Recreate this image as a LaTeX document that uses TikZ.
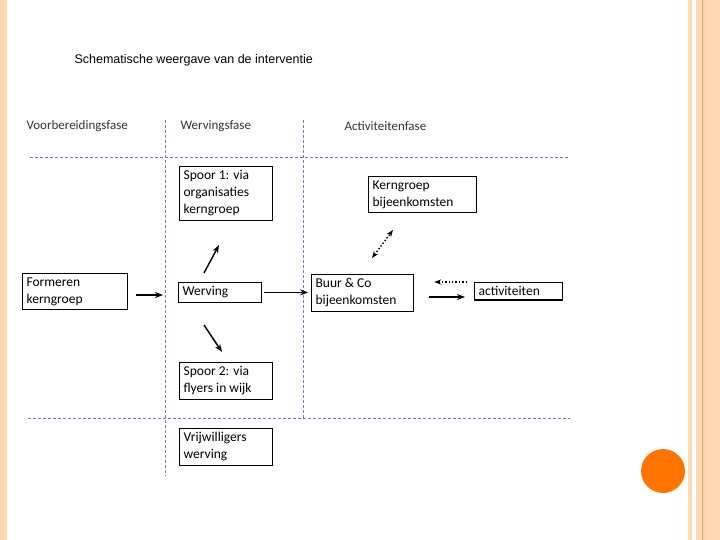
\documentclass[tikz,border=0pt]{standalone}
\usepackage{fontspec}
\setmainfont{Carlito}
\newfontfamily\titlefont{Liberation Sans}
\usetikzlibrary{arrows.meta}

\begin{document}
\begin{tikzpicture}[x=1pt, y=-1pt,
    stap/.style={draw, line width=1.2pt, anchor=north west, align=flush left, inner sep=4pt,
        font=\fontsize{13.5}{17}\selectfont},
    fase/.style={anchor=west, font=\fontsize{13}{15}\selectfont, text=black!80},
    scheiding/.style={densely dashed, color=blue!30!gray!80, line width=0.9pt},
    pijl/.style={-{Stealth[length=8pt, width=6pt]}, line width=1.4pt},
    stippel/.style={dotted, line width=1.4pt}]
    \useasboundingbox (0,0) rectangle (720,540);
    % slide decoration
    \fill[orange!30] (0,0) rectangle (7,540);
    \fill[orange!30] (688,0) rectangle (692,540);
    \fill[orange!30] (696,0) rectangle (720,540);
    \draw[orange!60!red!60] (702,0) -- (702,540);
    \fill[orange!80!red!90!yellow] (663,471) circle (22);
    \node[anchor=west, font=\titlefont\fontsize{12.5}{14}\selectfont] (titel) at (71,60)
        {Schematische weergave van de interventie};

    % kolommen
    \node[fase] (f1) at (23,126) {Voorbereidingsfase};
    \node[fase] (f2) at (177,126) {Wervingsfase};
    \node[fase] (f3) at (341,126) {Activiteitenfase};
    \draw[scheiding] (30,157) -- (570,157);
    \draw[scheiding] (28,418) -- (570,418);
    \draw[scheiding] (165,120) -- (165,476);
    \draw[scheiding] (303,120) -- (303,418);

    % stappen
    \node[stap, text width=97] (form) at (22,273) {Formeren\\kerngroep};
    \node[stap, text width=75] (werv) at (178,282) {Werving};
    \node[stap, text width=85] (spoor1) at (179,166) {Spoor 1: via\\organisaties\\kerngroep};
    \node[stap, text width=85] (spoor2) at (179,362) {Spoor 2: via\\flyers in wijk};
    \node[stap, text width=85] (vrij) at (179,428) {Vrijwilligers\\werving};
    \node[stap, text width=100] (kern) at (368,176) {Kerngroep\\bijeenkomsten};
    \node[stap, text width=94] (buur) at (311,274) {Buur \& Co\\bijeenkomsten};
    \node[stap, text width=80] (act) at (474,282) {activiteiten};

    \coordinate (w1) at (204,273);
    \coordinate (s1) at (219,245);
    \coordinate (w2) at (204,325);
    \coordinate (s2) at (222,352);
    \coordinate (b1) at (372,258);
    \coordinate (k1) at (393,230);

    \draw[pijl, shorten <=8pt, shorten >=15pt] (form.east |- 0,295) -- (werv.west |- 0,295);
    \draw[pijl, shorten <=2pt, shorten >=3pt] (werv.east) -- (buur.west |- werv.east);
    \draw[pijl] (w1) -- (s1);
    \draw[pijl] (w2) -- (s2);
    \draw[stippel, {Stealth[length=7pt]}-{Stealth[length=7pt]}] (b1) -- (k1);
    \draw[stippel, -{Stealth[length=7pt]}, shorten <=7pt, shorten >=20pt] (act.west |- 0,282) -- (buur.east |- 0,282);
    \draw[pijl, shorten <=15pt, shorten >=9pt] (buur.east |- 0,297) -- (act.west |- 0,297);
\end{tikzpicture}
\end{document}
